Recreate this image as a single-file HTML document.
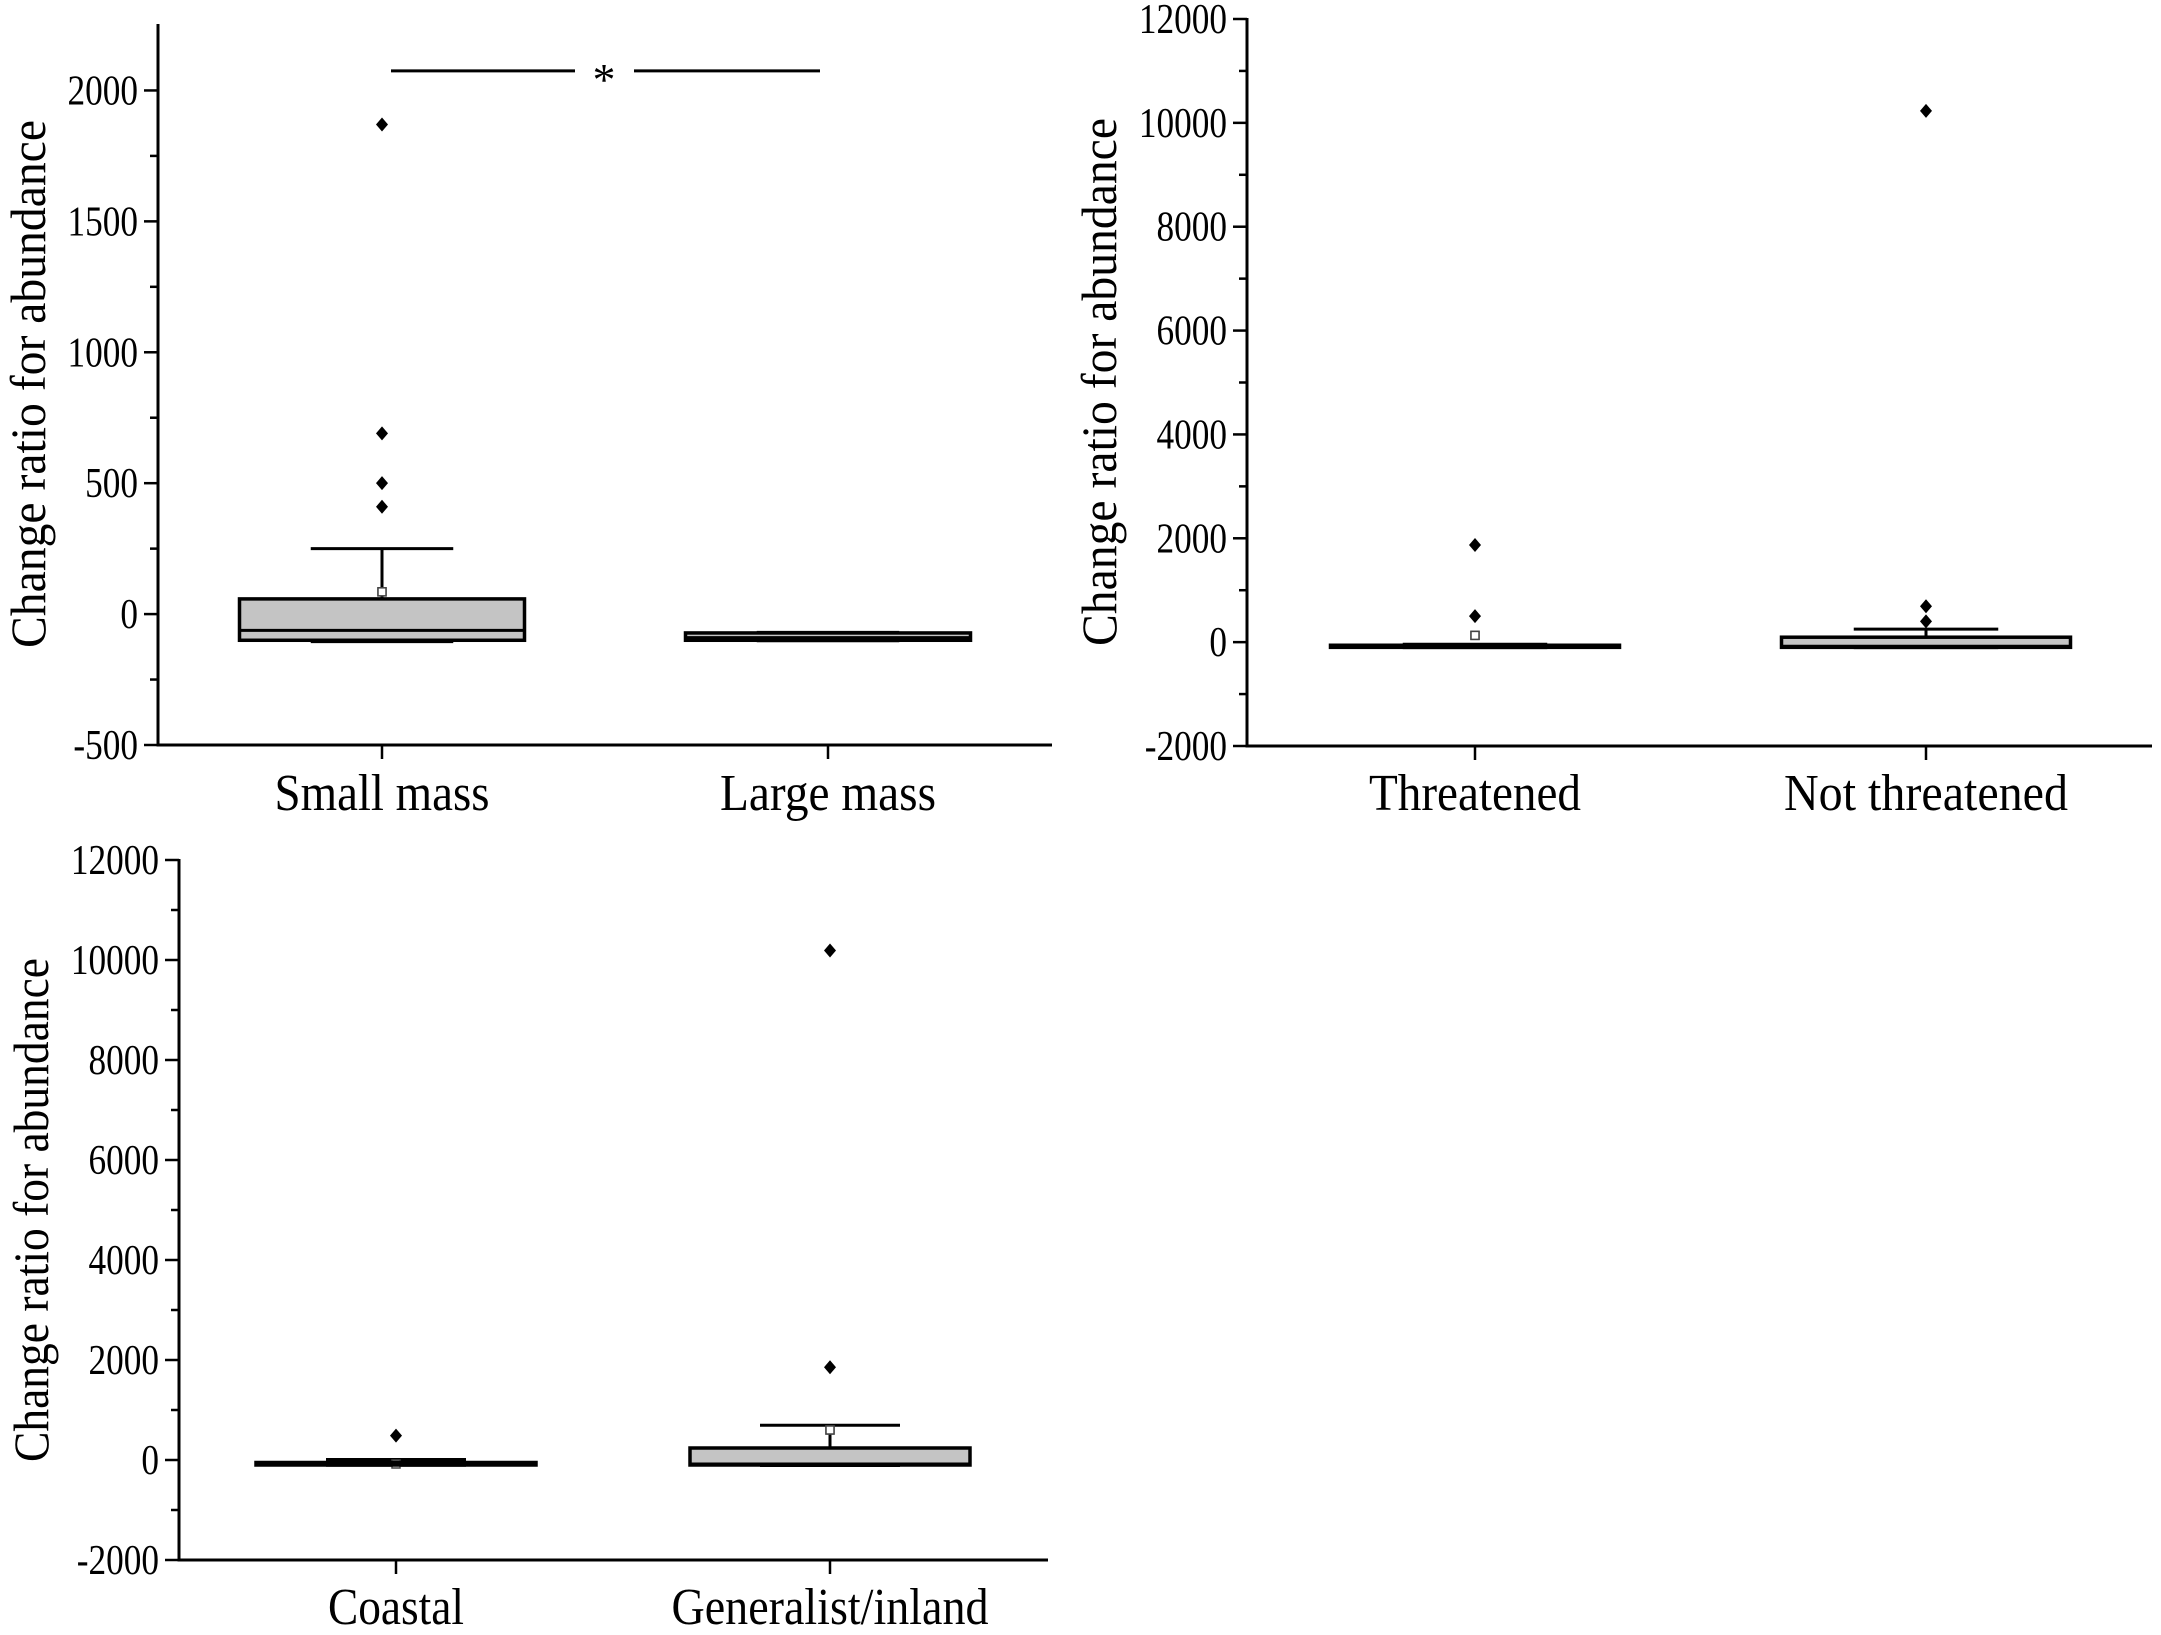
<!DOCTYPE html>
<html><head><meta charset="utf-8"><style>
html,body{margin:0;padding:0;background:#fff}
svg{display:block}
text{font-family:"Liberation Serif",serif;fill:#000}
</style></head><body>
<svg id="fig" width="2161" height="1635" viewBox="0 0 2161 1635" xmlns="http://www.w3.org/2000/svg"></svg>
<script>
// Panel A: body mass
const p1Categories = ["Small mass","Large mass"];
const p1Q1 = [-100,-100];
const p1Median = [-62,-90];
const p1Q3 = [58,-72];
const p1WhiskerLow = [-105,-102];
const p1WhiskerHigh = [250,-70];
const p1Mean = [85,-85];
const p1Outliers = [[1870,690,500,410],[]];
const p1Ticks = [-500,0,500,1000,1500,2000];
// Panel B: threat status
const p2Categories = ["Threatened","Not threatened"];
const p2Q1 = [-100,-100];
const p2Median = [-85,-80];
const p2Q3 = [-60,95];
const p2WhiskerLow = [-105,-105];
const p2WhiskerHigh = [-40,250];
const p2Mean = [130,0];
const p2Outliers = [[1870,500],[10230,690,400]];
const p2Ticks = [-2000,0,2000,4000,6000,8000,10000,12000];
// Panel C: habitat
const p3Categories = ["Coastal","Generalist/inland"];
const p3Q1 = [-100,-100];
const p3Median = [-80,-80];
const p3Q3 = [-50,240];
const p3WhiskerLow = [-105,-110];
const p3WhiskerHigh = [10,694];
const p3Mean = [-80,600];
const p3Outliers = [[487],[10190,1855]];
const p3Ticks = [-2000,0,2000,4000,6000,8000,10000,12000];

const NS="http://www.w3.org/2000/svg";
const svg=document.getElementById('fig');
function mk(tag,attrs,parent){const e=document.createElementNS(NS,tag);for(const k in attrs)e.setAttribute(k,attrs[k]);parent.appendChild(e);return e;}

function panel(cfg){
  const g=mk('g',{},svg);
  
  
  const ys=v=>cfg.y0+(v-cfg.vmin)/(cfg.vmax-cfg.vmin)*(cfg.y1-cfg.y0);
  const xc=i=>cfg.cx[i];
  const ya=mk('line',{x1:cfg.ax,y1:cfg.y1-1,x2:cfg.ax,y2:cfg.y0+1.5,stroke:'#000','stroke-width':3},g);
  
  
  const xa=mk('line',{x1:cfg.ax-1.5,y1:cfg.y0,x2:cfg.xr,y2:cfg.y0,stroke:'#000','stroke-width':3},g);
  
  
  cfg.ticks.forEach((t,i)=>{
    const y=ys(t);
    const tl=mk('line',{x1:cfg.ax-14,y1:y,x2:cfg.ax,y2:y,stroke:'#000','stroke-width':2.5},g);
    
    
    const tx=mk('text',{x:0,y:0,'text-anchor':'end','font-size':42,transform:`translate(${cfg.ax-20},${y+14}) scale(0.84,1)`},g);
    tx.textContent=String(t);
    
    
    if(i<cfg.ticks.length-1){
      const m=ys((t+cfg.ticks[i+1])/2);
      const ml=mk('line',{x1:cfg.ax-8,y1:m,x2:cfg.ax,y2:m,stroke:'#000','stroke-width':2.5},g);
      
      
    }
  });
  const yt=mk('text',{x:0,y:0,'text-anchor':'middle','font-size':50,textLength:cfg.ylen,lengthAdjust:'spacingAndGlyphs',transform:`translate(${cfg.ylx},${cfg.ylc}) rotate(-90)`},g);
  yt.textContent='Change ratio for abundance';
  
  
  cfg.cats.forEach((c,i)=>{
    const x=xc(i);
    const ct=mk('line',{x1:x,y1:cfg.y0,x2:x,y2:cfg.y0+14,stroke:'#000','stroke-width':2.5},g);
    
    
    const lb=mk('text',{x:x,y:cfg.cy,'text-anchor':'middle','font-size':52,textLength:cfg.clen[i],lengthAdjust:'spacingAndGlyphs'},g);
    lb.textContent=c;
    
    
    const hw=cfg.bw/2, cw=cfg.bw/4;
    const wh=mk('line',{x1:x,y1:ys(cfg.q3[i]),x2:x,y2:ys(cfg.wh[i]),stroke:'#000','stroke-width':3},g);
    
    
    const cap=mk('line',{x1:x-cw,y1:ys(cfg.wh[i]),x2:x+cw,y2:ys(cfg.wh[i]),stroke:'#000','stroke-width':3},g);
    
    
    const capl=mk('line',{x1:x-cw,y1:ys(cfg.wl[i]),x2:x+cw,y2:ys(cfg.wl[i]),stroke:'#000','stroke-width':3},g);
    
    
    const mn=mk('rect',{x:x-4,y:ys(cfg.mean[i])-4,width:8,height:8,fill:'#fff',stroke:'#444','stroke-width':1.5},g);
    
    
    const yTop=ys(cfg.q3[i]), yBot=ys(cfg.q1[i]);
    const bx=mk('rect',{x:x-hw,y:yTop,width:cfg.bw,height:Math.max(yBot-yTop,1),fill:'#c4c4c4',stroke:'#000','stroke-width':3.5},g);
    
    
    const md=mk('line',{x1:x-hw,y1:ys(cfg.med[i]),x2:x+hw,y2:ys(cfg.med[i]),stroke:'#000','stroke-width':3},g);
    
    
    if(cfg.mean[i]>cfg.q3[i]){
      const mn2=mk('rect',{x:x-4,y:ys(cfg.mean[i])-4,width:8,height:8,fill:'#fff',stroke:'#444','stroke-width':1.5},g);
      
      
    }
    cfg.out[i].forEach(v=>{
      const y=ys(v);
      const d=mk('path',{d:`M${x} ${y-7}L${x+6} ${y}L${x} ${y+7}L${x-6} ${y}Z`,fill:'#000'},g);
      
      
    });
  });
  return {g,ys};
}

const a=panel({name:'panel-body-mass',ax:158,xr:1052,y0:745,y1:25,vmin:-500,vmax:2250,ticks:p1Ticks,
  cats:p1Categories,cx:[382,828],bw:285,q1:p1Q1,q3:p1Q3,med:p1Median,wl:p1WhiskerLow,wh:p1WhiskerHigh,mean:p1Mean,out:p1Outliers,
  cy:810,clen:[215,216],ylx:45,ylc:384,ylen:528});
panel({name:'panel-threat-status',ax:1247,xr:2152,y0:746,y1:19,vmin:-2000,vmax:12000,ticks:p2Ticks,
  cats:p2Categories,cx:[1475,1926],bw:289,q1:p2Q1,q3:p2Q3,med:p2Median,wl:p2WhiskerLow,wh:p2WhiskerHigh,mean:p2Mean,out:p2Outliers,
  cy:810,clen:[212,284],ylx:1116,ylc:382,ylen:528});
panel({name:'panel-habitat',ax:179,xr:1048,y0:1560,y1:860,vmin:-2000,vmax:12000,ticks:p3Ticks,
  cats:p3Categories,cx:[396,830],bw:280,q1:p3Q1,q3:p3Q3,med:p3Median,wl:p3WhiskerLow,wh:p3WhiskerHigh,mean:p3Mean,out:p3Outliers,
  cy:1624,clen:[136,317],ylx:48,ylc:1210,ylen:504});

const sg=mk('g',{},svg);


const sy=a.ys(2075);
mk('line',{x1:391,y1:sy,x2:575,y2:sy,stroke:'#000','stroke-width':3},sg);
mk('line',{x1:634,y1:sy,x2:820,y2:sy,stroke:'#000','stroke-width':3},sg);
const st=mk('text',{x:604,y:sy+24,'text-anchor':'middle','font-size':46},sg);
st.textContent='*';


</script>
</body></html>
